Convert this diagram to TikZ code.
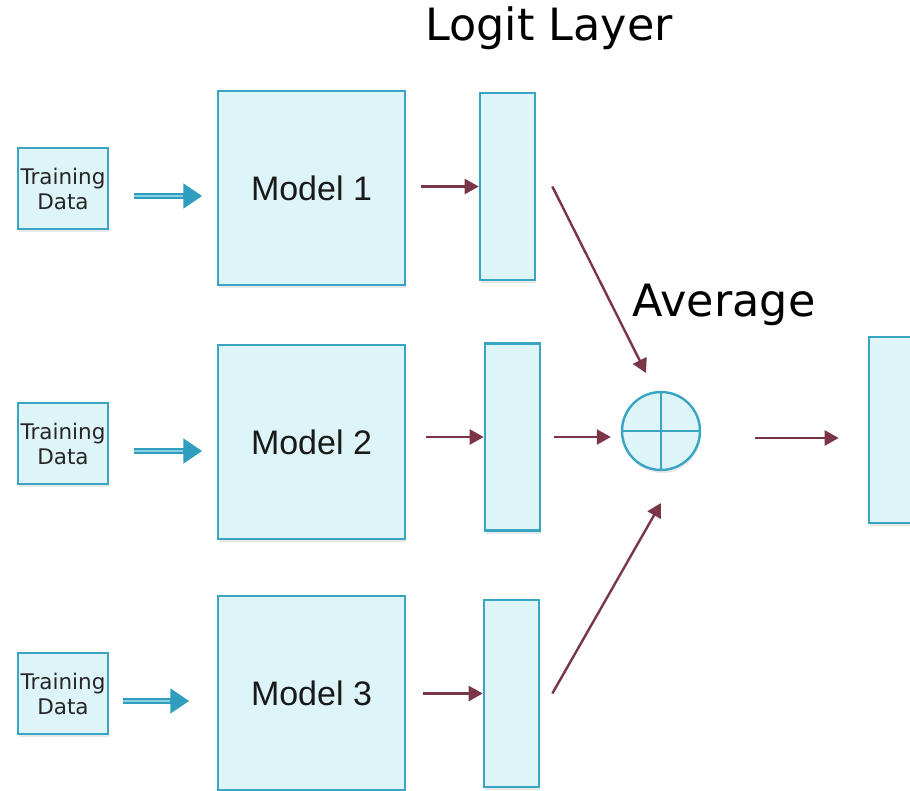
\documentclass[tikz,border=0pt]{standalone}
\usepackage{fontspec}
\setmainfont{Liberation Sans}
\newfontfamily\labfont{DejaVu Sans}
\usetikzlibrary{arrows.meta,shadows}
\definecolor{boxfill}{HTML}{DDF4F9}
\definecolor{boxline}{HTML}{3AA5C3}
\definecolor{redarr}{HTML}{7A3647}
\definecolor{bluearr}{HTML}{2E9DBE}
\definecolor{bluelite}{HTML}{8ACFE2}
\tikzset{
  shade/.style={drop shadow={opacity=0.18,shadow xshift=1pt,shadow yshift=-3pt}},
  databox/.style={draw=boxline,fill=boxfill,line width=1.5pt,minimum width=90pt,minimum height=81pt,inner sep=0pt,align=center,font=\labfont\fontsize{21.5}{25}\selectfont,text=black!85,shade},
  modelbox/.style={draw=boxline,fill=boxfill,line width=1.5pt,minimum width=187pt,minimum height=194pt,inner sep=0pt,font=\fontsize{34}{36}\selectfont,text=black!90,shade},
  logitbox/.style={draw=boxline,fill=boxfill,line width=2.6pt,minimum width=55pt,minimum height=187pt,inner sep=0pt,shade},
  avgnode/.style={circle,draw=boxline,fill=boxfill,line width=2.4pt,minimum size=78pt,inner sep=0pt,shade},
  redline/.style={draw=redarr,line width=2.4pt,-{Triangle[length=14pt,width=15pt]}},
  blueline/.style={draw=bluearr,line width=6.5pt,-{Triangle[length=19pt,width=24pt]}},
  bluecore/.style={draw=bluelite,line width=1.6pt},
  biglabel/.style={font=\labfont\fontsize{44.5}{48}\selectfont,inner sep=0pt}
}
\begin{document}
\begin{tikzpicture}[x=1pt,y=-1pt]
\useasboundingbox (0,0) rectangle (910,790);
\clip (0,0) rectangle (910,790);
\fill[white] (0,0) rectangle (910,790);

% training data
\node[databox] (td1) at (63,188.5) {Training\\Data};
\node[databox] (td2) at (63,443.5) {Training\\Data};
\node[databox] (td3) at (63,693.5) {Training\\Data};

% models
\node[modelbox] (m1) at (311.5,188) {Model 1};
\node[modelbox] (m2) at (311.5,442) {Model 2};
\node[modelbox] (m3) at (311.5,693) {Model 3};

% logit layers
\node[logitbox] (l1) at (507.5,186.5) {};
\node[logitbox] (l2) at (512.5,437) {};
\node[logitbox] (l3) at (511.5,693.5) {};

% average
\node[avgnode] (avg) at (661,431) {};
\draw[boxline,line width=1.8pt] (avg.north) -- (avg.south) (avg.west) -- (avg.east);

% output
\node[logitbox,minimum height=186pt] (out) at (896.5,430) {};

% labels
\node[biglabel] (lbl1) at (549,28) {Logit Layer};
\node[biglabel] (lbl2) at (724,305) {Average};

% blue arrows
\coordinate (b1s) at ([xshift=25pt,yshift=-7.5pt]td1.east);
\coordinate (b1e) at ([xshift=-15pt,yshift=-8pt]m1.west);
\coordinate (b2s) at ([xshift=25pt,yshift=-7.5pt]td2.east);
\coordinate (b2e) at ([xshift=-15pt,yshift=-9pt]m2.west);
\coordinate (b3s) at ([xshift=14pt,yshift=-7.5pt]td3.east);
\coordinate (b3e) at ([xshift=-28pt,yshift=-8pt]m3.west);
\foreach \s/\e in {b1s/b1e,b2s/b2e,b3s/b3e}{
  \draw[blueline] (\s) -- (\e);
  \draw[bluecore,shorten >=19pt] (\s) -- (\e);
}

% red arrows model -> logit
\draw[redline,shorten <=15pt] (m1.east |- l1.west) -- (l1.west);
\draw[redline,shorten <=20pt] (m2.east |- l2.west) -- (l2.west);
\draw[redline,shorten <=17pt] (m3.east |- l3.west) -- (l3.west);

% logit -> average
\coordinate (s1) at ([xshift=16pt]l1.east);
\coordinate (e1) at ([xshift=-15pt,yshift=58pt]avg.center);
\draw[redline] (s1) -- (e1);
\coordinate (e2) at ([xshift=-10pt,yshift=-6pt]avg.west);
\draw[redline,shorten <=13pt] (l2.east) -- (e2);
\coordinate (s3) at ([xshift=12pt]l3.east);
\coordinate (e3) at ([yshift=-72pt]avg.center);
\draw[redline] (s3) -- (e3);

% average -> output
\coordinate (s4) at ([xshift=54pt,yshift=-7pt]avg.east);
\coordinate (e4) at ([xshift=-29pt,yshift=-8pt]out.west);
\draw[redline] (s4) -- (e4);
\end{tikzpicture}
\end{document}
